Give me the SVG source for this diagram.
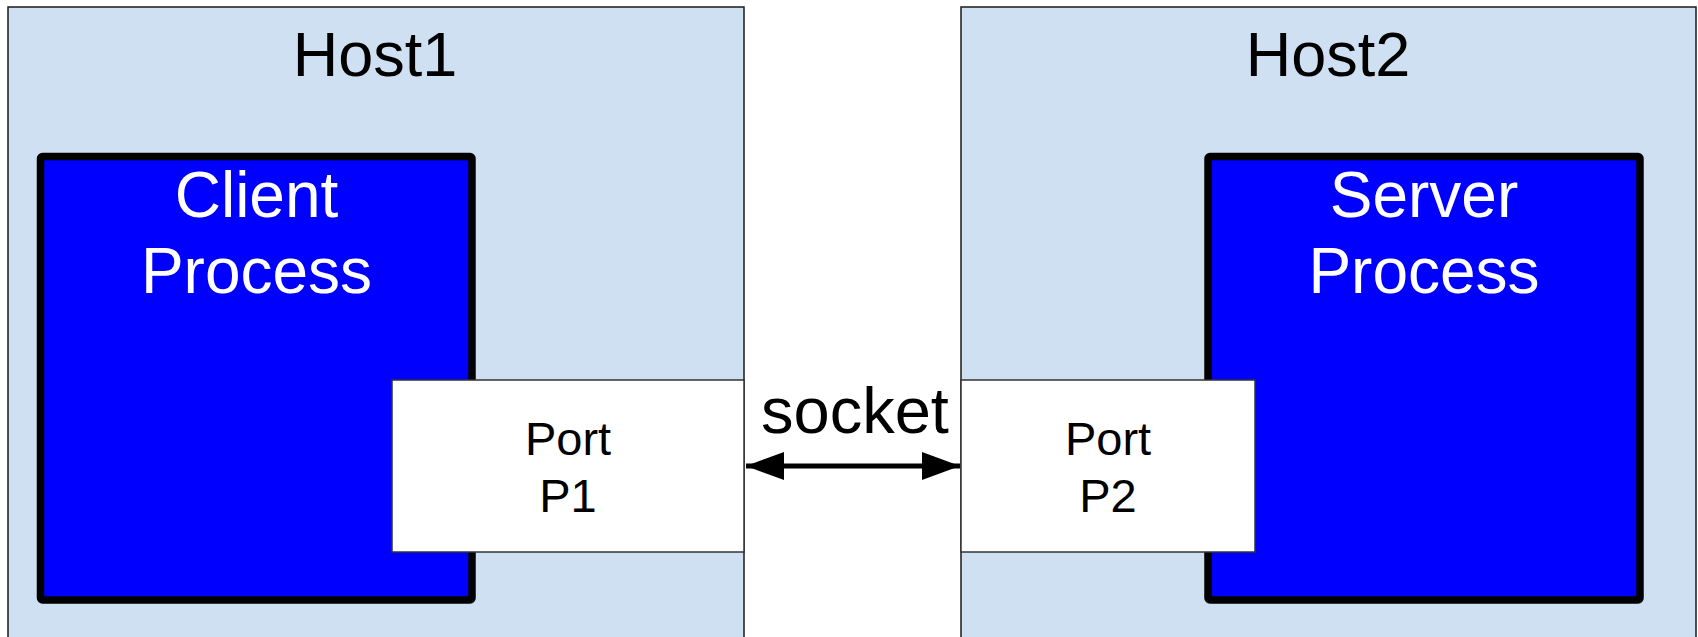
<svg xmlns="http://www.w3.org/2000/svg" width="1698" height="637" viewBox="0 0 1698 637">
<defs>
<style>
.host{fill:#cfe0f2;stroke:#1a1a1a;stroke-width:1.5}
.proc{fill:#0000ff;stroke:#000;stroke-width:7.5}
.port{fill:#fff;stroke:#333;stroke-width:1.5}
text{font-family:"Liberation Sans",Arial,sans-serif;text-anchor:middle}
.hl{font-size:63px;fill:#000}
.pl{font-size:64px;fill:#fff}
.ptl{font-size:47px;fill:#000}
.sl{font-size:65px;fill:#000}
</style>
<marker id="ah" viewBox="0 0 38 28" refX="38" refY="14" markerWidth="38" markerHeight="28" markerUnits="userSpaceOnUse" orient="auto-start-reverse">
<path d="M0,0 L38,14 L0,28 Z" fill="#000"/>
</marker>
</defs>
<rect width="1698" height="637" fill="#fff"/>
<g id="host1">
<rect class="host" x="8" y="7" width="736" height="632"/>
<text class="hl" x="375" y="76">Host1</text>
</g>
<g id="host2">
<rect class="host" x="961" y="7" width="735" height="632"/>
<text class="hl" x="1328" y="76">Host2</text>
</g>
<g id="client">
<rect class="proc" x="40.5" y="156.5" width="431.5" height="443.5" rx="2"/>
<text class="pl" x="256.5" y="217">Client</text>
<text class="pl" x="256.5" y="293">Process</text>
</g>
<g id="server">
<rect class="proc" x="1208" y="156.5" width="432" height="443.5" rx="2"/>
<text class="pl" x="1424" y="217">Server</text>
<text class="pl" x="1424" y="293">Process</text>
</g>
<g id="port1">
<rect class="port" x="392" y="380" width="352" height="172"/>
<text class="ptl" x="568" y="455">Port</text>
<text class="ptl" x="568" y="512">P1</text>
</g>
<g id="port2">
<rect class="port" x="961" y="380" width="294" height="172"/>
<text class="ptl" x="1108" y="455">Port</text>
<text class="ptl" x="1108" y="512">P2</text>
</g>
<g id="connectors">
<line x1="746" y1="466" x2="960" y2="466" stroke="#000" stroke-width="5" marker-start="url(#ah)" marker-end="url(#ah)"/>
<text class="sl" x="855" y="433">socket</text>
</g>
</svg>
